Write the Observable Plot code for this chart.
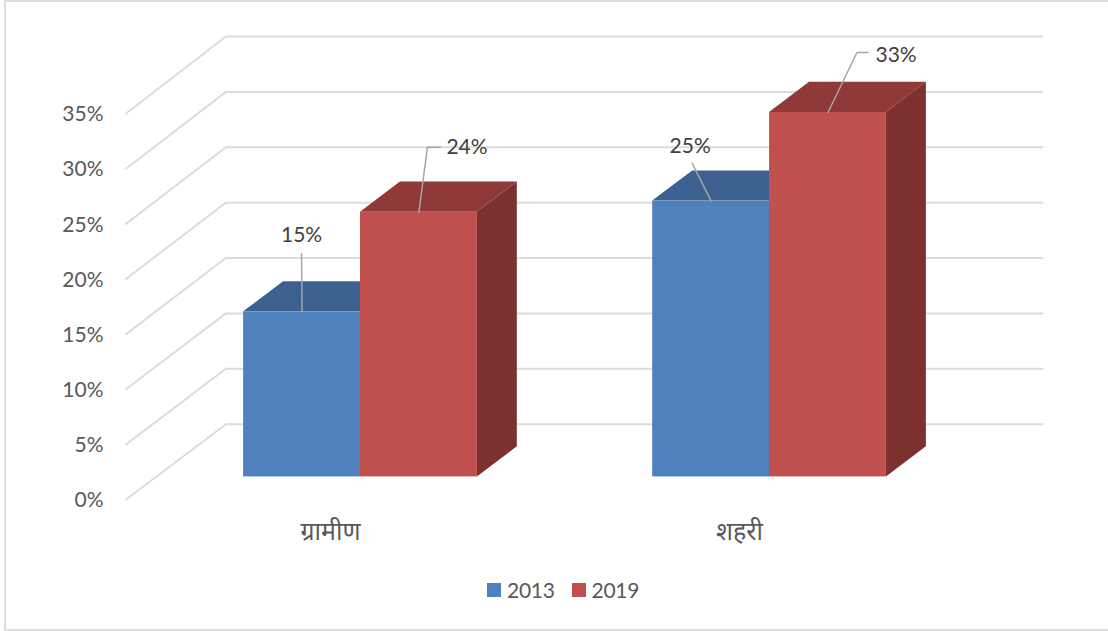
<!DOCTYPE html>
<html>
<head>
<meta charset="utf-8">
<script src="https://cdn.jsdelivr.net/npm/d3@7"></script>
<script src="https://cdn.jsdelivr.net/npm/@observablehq/plot@0.6"></script>
<style>
  html, body { margin: 0; padding: 0; background: #fff; overflow: hidden; }
  body { width: 1108px; height: 631px; position: relative; font-family: Lato, "Noto Sans", sans-serif; }
  #frame { position: absolute; left: 4px; top: 0; width: 1200px; height: 627px; border: 2px solid #dcdcdc; box-sizing: content-box; }
  #chart { position: absolute; left: 0; top: 0; }
  #legend { position: absolute; left: 487px; top: 576px; display: flex; align-items: center; font-size: 21px; letter-spacing: -0.3px; color: #595959; line-height: 28px; }
  #legend i { display: inline-block; width: 14px; height: 14px; margin-right: 6px; }
  #legend span { margin-right: 17px; }
</style>
</head>
<body>
<div id="frame"></div>
<div id="chart"></div>
<div id="legend"></div>
<script>
const categories = ["ग्रामीण", "शहरी"];
const years = ["2013", "2019"];
const values2013 = [14.9, 24.9];
const values2019 = [23.9, 32.9];
const yTicks = [0, 5, 10, 15, 20, 25, 30, 35];

const W = 1108, H = 631;
const xLeft = 125.5, xRight = 1043.5, yBottom = 499, yTop = 36;
const depthX = 0.2442, depthY = 6.8;      // full floor depth, in x and y data units
const barW = 2 / 7;                        // bar width as a share of one category
const d0 = 0.3, d1 = 0.7;                  // bars' span along the floor depth
const frontScale = 0.9955;                 // slight perspective: the front edge is a little shorter
const gridEnd = 1.996;                     // where the back-wall gridlines stop
const ux = (xRight - xLeft) / (2 + depthX);
const uy = (yBottom - yTop) / (35 + depthY);

const palette = {
  "2013": {front: "#4f81bd", top: "#3c6190", side: "#2f4d72"},
  "2019": {front: "#c0504d", top: "#8f3a38", side: "#7d312f"}
};

const bars = [];
categories.forEach((c, i) => {
  bars.push({year: "2013", cat: c, left: i + 0.5 - barW, right: i + 0.5, v: values2013[i]});
  bars.push({year: "2019", cat: c, left: i + 0.5, right: i + 0.5 + barW, v: values2019[i]});
});

// Polyline for each wall gridline: front of the floor, back of the floor, far right.
const grid = yTicks.flatMap(t => [
  {t, x: 0, y: t * frontScale},
  {t, x: depthX, y: t + depthY},
  {t, x: gridEnd + depthX, y: t + depthY}
]);

const faceMarks = years.flatMap(year => {
  const s = bars.filter(b => b.year === year);
  const c = palette[year];
  const top = s.flatMap(b => [d0, d1].map(d => ({
    id: b.cat, y: b.v + d * depthY, x1: b.left + d * depthX, x2: b.right + d * depthX
  })));
  const side = s.flatMap(b => [d0, d1].map(d => ({
    id: b.cat, x: b.right + d * depthX, y1: d * depthY, y2: b.v + d * depthY
  })));
  return [
    Plot.areaX(top, {y: "y", x1: "x1", x2: "x2", z: "id", fill: c.top}),
    Plot.areaY(side, {x: "x", y1: "y1", y2: "y2", z: "id", fill: c.side}),
    Plot.rect(s, {
      x1: b => b.left + d0 * depthX, x2: b => b.right + d0 * depthX,
      y1: d0 * depthY, y2: b => b.v + d0 * depthY, fill: c.front
    })
  ];
});

// Data-label callouts: pixel bends relative to the middle of each bar's front top edge.
const callouts = [
  {bar: bars[0], bends: [[-0.5, -58]], label: [-0.5, -76.5], anchor: "middle"},
  {bar: bars[1], bends: [[8.5, -65], [21.5, -65]], label: [27.5, -64.5], anchor: "start"},
  {bar: bars[2], bends: [[-19, -38]], label: [-21, -54.5], anchor: "middle"},
  {bar: bars[3], bends: [[29, -60], [40, -60]], label: [47.5, -57.5], anchor: "start"}
];
const at = (b, off) => ({
  x: (b.left + b.right) / 2 + d0 * depthX + off[0] / ux,
  y: b.v + d0 * depthY - off[1] / uy
});
const leaderPts = callouts.flatMap((c, i) =>
  [[0, 0], ...c.bends].map(o => ({i, ...at(c.bar, o)})));
const labelPts = callouts.map(c => ({
  ...at(c.bar, c.label), text: d3.format(".0f")(c.bar.v) + "%", anchor: c.anchor
}));

const chart = Plot.plot({
  width: W, height: H,
  marginLeft: xLeft, marginRight: W - xRight, marginTop: yTop, marginBottom: H - yBottom,
  style: {background: "transparent", fontFamily: "Lato, 'Noto Sans', sans-serif"},
  x: {domain: [0, 2 + depthX], axis: null},
  y: {domain: [0, 35 + depthY], axis: null},
  marks: [
    Plot.line(grid, {x: "x", y: "y", z: "t", stroke: "#dcdcdc", strokeWidth: 2, curve: "linear"}),
    Plot.text(yTicks, {
      x: 0, y: t => t * frontScale, text: t => t + "%", textAnchor: "end", dx: -22.5, dy: 1,
      fontSize: 21, fill: "#595959"
    }),
    Plot.text(categories, {
      x: (d, i) => i + 0.5, y: 0, text: d => d, dy: 32, fontSize: 25, fill: "#595959"
    }),
    ...faceMarks,
    Plot.line(leaderPts, {x: "x", y: "y", z: "i", stroke: "#a6a6a6", strokeWidth: 1.5}),
    Plot.text(labelPts.filter(d => d.anchor === "middle"), {
      x: "x", y: "y", text: "text", textAnchor: "middle", fontSize: 21, fill: "#404040"
    }),
    Plot.text(labelPts.filter(d => d.anchor === "start"), {
      x: "x", y: "y", text: "text", textAnchor: "start", fontSize: 21, fill: "#404040"
    })
  ]
});
document.getElementById("chart").append(chart);

const legend = d3.select("#legend");
years.forEach(y => {
  legend.append("i").style("background", palette[y].front);
  legend.append("span").text(y);
});
</script>
</body>
</html>
